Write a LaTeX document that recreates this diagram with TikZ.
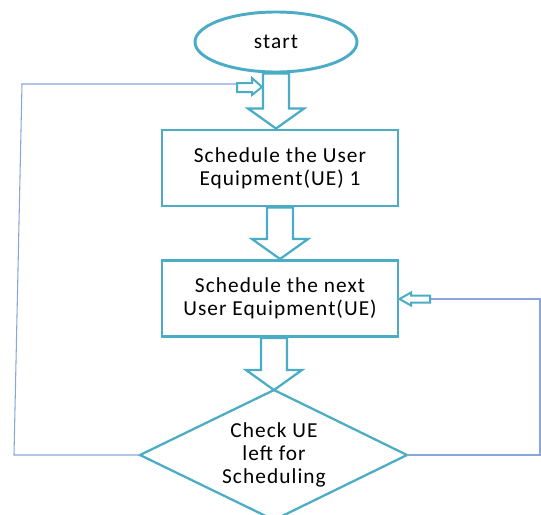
\documentclass[tikz,border=0pt]{standalone}
\usepackage{fontspec}
\setmainfont{Carlito}[LetterSpace=5]
\usetikzlibrary{shapes.geometric,calc}
\definecolor{teal1}{HTML}{4BACC6}
\definecolor{link1}{HTML}{8AA6D8}
\tikzset{
  txt/.style={font=\fontsize{16}{17.3}\selectfont},
  box/.style={txt,draw=teal1,line width=2.2pt,fill=white,minimum width=177pt,minimum height=57pt,align=center,inner sep=0pt},
  blk/.style={draw=teal1,line width=1.7pt,fill=white,line join=miter},
  small/.style={draw=teal1,line width=1.5pt,fill=white},
  link/.style={draw=link1,line width=0.8pt}
}
\newcommand\blockarrow[2]{%
  \draw[blk] let \p1=(#1), \p2=(#2) in
    (\x2-9.75pt,\y1) -- (\x2+9.75pt,\y1) -- (\x2+9.75pt,\y2+15pt) -- (\x2+21pt,\y2+15pt)
    -- (\x2,\y2) -- (\x2-21pt,\y2+15pt) -- (\x2-9.75pt,\y2+15pt) -- cycle;}
\begin{document}
\begin{tikzpicture}[x=0.75pt,y=-0.75pt]
\useasboundingbox (0,0) rectangle (541,514);
\clip (0,0) rectangle (541,514);
\node[txt,ellipse,draw=teal1,line width=2.2pt,fill=white,minimum width=121.5pt,minimum height=45pt,inner sep=0pt] (start) at (276,42) {start};
\node[box] (ue1) at (280,168) {Schedule the User\\Equipment(UE) 1};
\node[box] (ue2) at (280,298.5) {Schedule the next\\User Equipment(UE)};
% decision diamond
\coordinate (chkN) at (274,390);
\coordinate (chkW) at (140,455);
\coordinate (chkE) at (407,455);
\coordinate (chkS) at (274,520);
\draw[draw=teal1,line width=1.7pt,fill=white,line join=miter] (chkN) -- (chkE) -- (chkS) -- (chkW) -- cycle;
\node[txt,align=center,inner sep=0pt] (chk) at (274,455) {Check UE\\left for\\Scheduling};
\blockarrow{start.south}{start.south |- ue1.north}
\blockarrow{ue1.south}{ue2.north}
\blockarrow{chkN |- ue2.south}{chkN}
% left loop
\coordinate (la) at (237,84);
\coordinate (lt) at (262,87);
\draw[link] (chkW) -- (14,455) -- (22,84) -- (la);
\draw[small] (la |- 0,83) -- (252,83) -- (252,78) -- (lt) -- (252,95) -- (252,92) -- (la |- 0,92) -- cycle;
% right loop
\coordinate (ra) at (430,299);
\draw[link] (chkE) -- (540,455) -- (540,299) -- (ra);
\draw[small] (ra |- 0,295.5) -- (411,295.5) -- (411,292.5) -- (ue2.east |- ra) -- (411,305.5) -- (411,302.5) -- (ra |- 0,302.5) -- cycle;
\end{tikzpicture}
\end{document}
